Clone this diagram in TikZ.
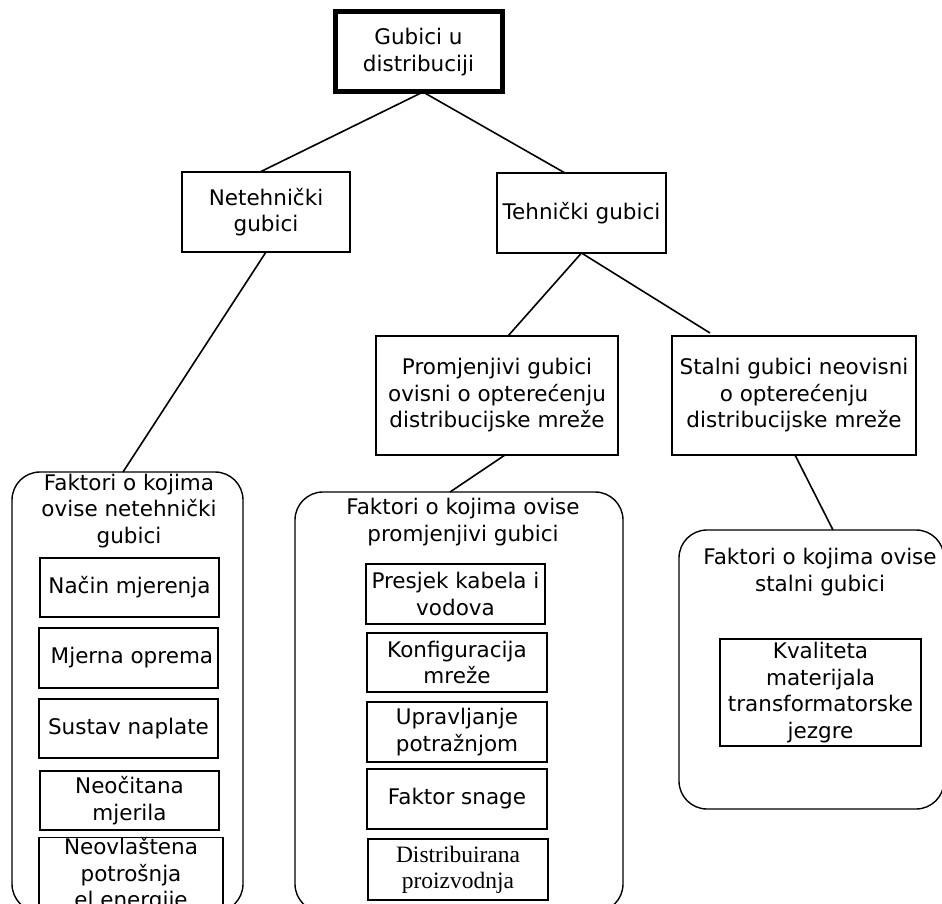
\documentclass[tikz,border=0pt]{standalone}
\usepackage{fontspec}
\setmainfont{DejaVu Sans}
\newfontfamily\serifx{Liberation Serif}
\begin{document}
\begin{tikzpicture}[x=1pt,y=-1pt,
  every node/.style={font=\fontsize{21.5}{26.5}\selectfont, align=center, inner sep=0pt, outer sep=0pt},
  box/.style={draw, line width=1.4pt, rectangle},
  rootbox/.style={draw, line width=5pt, rectangle},
  cont/.style={draw, line width=1.4pt, rounded corners=28pt, rectangle},
  link/.style={line width=1.6pt},
  sz/.style 2 args={minimum width=#1pt, minimum height=#2pt}]
\fill[white] (0,0) rectangle (942,904);
\useasboundingbox (0,0) rectangle (942,904);
\clip (0,0) rectangle (942,904);

% containers
\node[cont, sz={231}{440}] (ntcont) at (127.5,692) {};
\node[cont, sz={328}{420}] (midcont) at (459,702) {};
\node[cont, sz={265}{279}] (rcont) at (811.5,669.5) {};

% container titles
\node (nttitle) at (129,511) {Faktori o kojima\\ovise netehnički\\gubici};
\node (midtitle) at (463,522) {Faktori o kojima ovise\\promjenjivi gubici};
\node (rtitle) at (820,572) {Faktori o kojima ovise\\stalni gubici};

% top levels
\node[rootbox, sz={167}{80}] (root) at (418.5,52) {Gubici u\\distribuciji};
\node[box, sz={168}{80}] (nt) at (266,212) {Netehnički\\gubici};
\node[box, sz={169}{80}] (teh) at (581.5,213) {Tehnički gubici};
\node[box, sz={242}{119}] (prom) at (497,395.5) {Promjenjivi gubici\\ovisni o opterećenju\\distribucijske mreže};
\node[box, sz={244}{119}] (stal) at (794,395.5) {Stalni gubici neovisni\\o opterećenju\\distribucijske mreže};

% left inner boxes
\node[box, sz={179}{59}] (nac) at (129.5,587.5) {Način mjerenja};
\node[box, sz={179}{60}] (mjo) at (128.5,658) {\ Mjerna oprema};
\node[box, sz={179}{59}] (sus) at (128.5,728.5) {Sustav naplate};
\node[box, sz={179}{59}] (neo) at (129.5,800.5) {Neočitana\\mjerila};
\node[box, sz={184}{74}] (neov) at (131,875) {Neovlaštena\\potrošnja\\el.energije};

% middle inner boxes
\node[box, sz={179}{60}] (pres) at (455.5,594) {Presjek kabela i\\vodova};
\node[box, sz={180}{59}] (konf) at (457,662.5) {Konfiguracija\\mreže};
\node[box, sz={180}{60}] (upr) at (457,732) {Upravljanje\\potražnjom};
\node[box, sz={180}{60}] (fak) at (457,799) {Faktor snage};
\node[box, sz={180}{61}, font=\serifx\fontsize{23.5}{26}\selectfont] (dist) at (458,869.5) {Distribuirana\\proizvodnja};

% right inner box
\node[box, sz={201}{107}] (kval) at (820.5,692.5) {Kvaliteta\\materijala\\transformatorske\\jezgre};

% connectors
\draw[link] ([xshift=4.5pt]root.south) -- ([xshift=-6pt]nt.north);
\draw[link] ([xshift=4.5pt]root.south) -- ([xshift=-16.5pt]teh.north);
\draw[link] (nt.south) -- ([xshift=-4.5pt]ntcont.north);
\draw[link] (teh.south) -- ([xshift=11pt]prom.north);
\draw[link] (teh.south) -- ([xshift=-84pt,yshift=3pt]stal.north);
\draw[link] ([xshift=8pt]prom.south) -- ([xshift=-9pt]midcont.north);
\draw[link] ([xshift=1pt]stal.south) -- ([xshift=21.5pt]rcont.north);
\end{tikzpicture}
\end{document}
